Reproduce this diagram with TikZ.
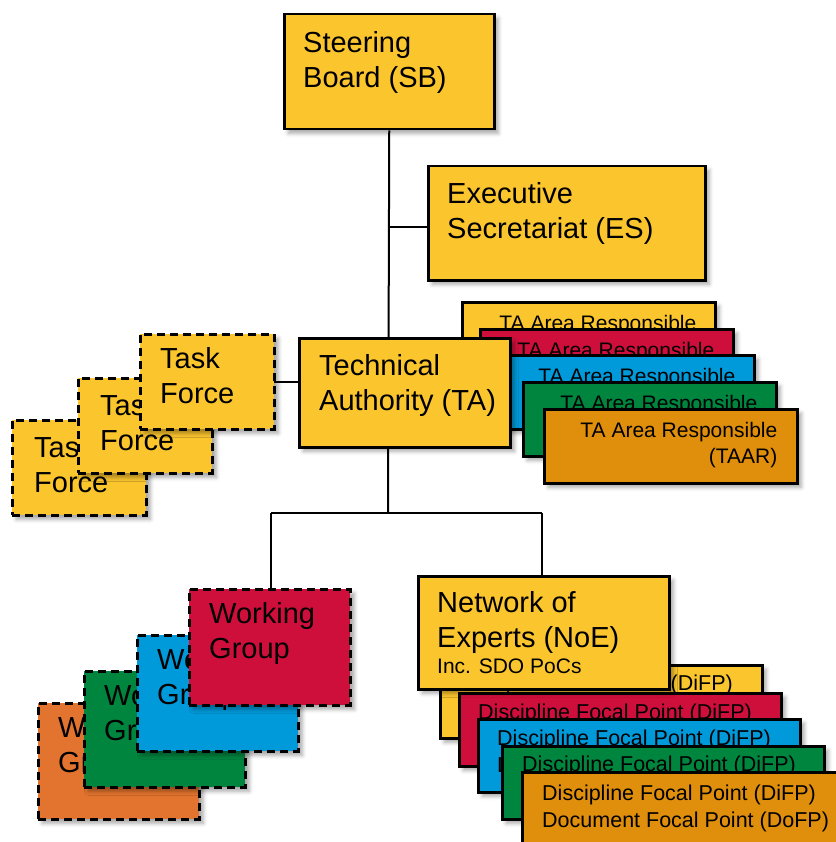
\documentclass[tikz,border=0pt]{standalone}
\usepackage{fontspec}
\setmainfont{Liberation Sans}
\usetikzlibrary{calc,shadows.blur}
\definecolor{cyel}{HTML}{FBC52E}
\definecolor{cred}{HTML}{CF0F3B}
\definecolor{cblue}{HTML}{0099DA}
\definecolor{cgreen}{HTML}{00853F}
\definecolor{camber}{HTML}{E08F0C}
\definecolor{corange}{HTML}{E3742F}
\newcommand{\bigf}{\fontsize{29}{35}\selectfont}
\newcommand{\taarf}{\fontsize{21}{26.5}\selectfont}
\newcommand{\difpf}{\fontsize{21.5}{27}\selectfont}
\tikzset{
  orgbox/.style={draw=black, line width=2.5pt, rectangle, inner sep=0pt, anchor=north west,
    blur shadow={shadow xshift=4pt, shadow yshift=-4pt, shadow blur radius=4pt, shadow opacity=35}},
  dbox/.style={orgbox, dash pattern=on 8pt off 5pt},
  tfbox/.style={dbox, fill=cyel, minimum width=134pt, minimum height=95pt},
  wgbox/.style={dbox, minimum width=161pt, minimum height=116pt},
  taarbox/.style={orgbox, minimum width=253pt, minimum height=74pt},
  difpbox/.style={orgbox, minimum width=322pt, minimum height=73pt},
  bigtxt/.style={inner sep=0pt, anchor=north west, align=left, font=\bigf},
  smtxtr/.style={inner sep=0pt, anchor=north east, align=right, font=\taarf},
  smtxtl/.style={inner sep=0pt, anchor=north west, align=left, font=\difpf},
  conn/.style={draw=black, line width=2pt},
}
\begin{document}
\begin{tikzpicture}[x=1pt,y=-1pt]
\useasboundingbox (0,0) rectangle (835,842);

% ---- connectors ----
\node[orgbox, fill=cyel, minimum width=210pt, minimum height=115pt] (sb) at (283,13) {};
\coordinate (j) at (388,513);
\coordinate (jl) at (271,513);
\coordinate (jr) at (542,513);
\coordinate (escon) at (388,227);
\coordinate (tfcon) at (388,382);
\draw[conn] (sb.south) -- (j);
\draw[conn] (jl) -- (jr);
\draw[conn] (escon) -- (427,227);
\draw[conn] (tfcon) -- (273,382);
\draw[conn] (jl) -- (271,588);
\draw[conn] (jr) -- (542,575);

% ---- Steering Board ----
\node[bigtxt] (sbt) at (303,{52-24.5}) {\strut Steering\\Board (SB)};

% ---- Executive Secretariat ----
\node[orgbox, fill=cyel, minimum width=277pt, minimum height=114pt] (es) at (427,165) {};
\node[bigtxt] (est) at (447,{203-24.5}) {\strut Executive\\Secretariat (ES)};

% ---- TA Area Responsible stack ----
\node[taarbox, fill=cyel] (ta1) at (461,301) {};
\node[smtxtr] (ta1t) at ($(ta1.north east)+(-20,10.5)$) {\strut TA Area Responsible};
\node[taarbox, fill=cred] (ta2) at (479,328) {};
\node[smtxtr] (ta2t) at ($(ta2.north east)+(-20,10.5)$) {\strut TA Area Responsible};
\node[taarbox, fill=cblue] (ta3) at (500,354) {};
\node[smtxtr] (ta3t) at ($(ta3.north east)+(-20,10.5)$) {\strut TA Area Responsible};
\node[taarbox, fill=cgreen] (ta4) at (522,381) {};
\node[smtxtr] (ta4t) at ($(ta4.north east)+(-20,10.5)$) {\strut TA Area Responsible};
\node[taarbox, fill=camber] (ta5) at (543,408) {};
\node[smtxtr] (ta5t) at ($(ta5.north east)+(-21,10.5)$) {\strut TA Area Responsible\\(TAAR)};

% ---- Technical Authority ----
\node[orgbox, fill=cyel, minimum width=211pt, minimum height=109pt] (ta) at (298,337) {};
\node[bigtxt] (tat) at (319,{375-24.5}) {\strut Technical\\Authority (TA)};

% ---- Task Forces ----
\node[tfbox] (tf3) at (11,419) {};
\node[bigtxt] (tf3t) at ($(tf3.north west)+(23,{38-24.5})$) {\strut Task\\Force};
\node[tfbox] (tf2) at (77,377) {};
\node[bigtxt] (tf2t) at ($(tf2.north west)+(23,{38-24.5})$) {\strut Task\\Force};
\node[tfbox] (tf1) at (139,333) {};
\node[bigtxt] (tf1t) at ($(tf1.north west)+(21,{35-24.5})$) {\strut Task\\Force};

% ---- Working Groups ----
\node[wgbox, fill=corange] (wg4) at (37,702) {};
\node[bigtxt] (wg4t) at ($(wg4.north west)+(21,{35-24.5})$) {\strut Working\\Group};
\node[wgbox, fill=cgreen] (wg3) at (83,670) {};
\node[bigtxt] (wg3t) at ($(wg3.north west)+(21,{35-24.5})$) {\strut Working\\Group};
\node[wgbox, fill=cblue] (wg2) at (136,634) {};
\node[bigtxt] (wg2t) at ($(wg2.north west)+(21,{35-24.5})$) {\strut Working\\Group};
\node[wgbox, fill=cred] (wg1) at (188,588) {};
\node[bigtxt] (wg1t) at ($(wg1.north west)+(21,{35-24.5})$) {\strut Working\\Group};

% ---- Discipline Focal Point stack ----
\node[difpbox, fill=cyel] (df1) at (439,664) {};
\node[smtxtl] (df1t) at ($(df1.north west)+(20,{26-18.9})$) {\strut Discipline Focal Point (DiFP)};
\node[difpbox, fill=cred] (df2) at (458,692) {};
\node[smtxtl] (df2t) at ($(df2.north west)+(20,{27-18.9})$) {\strut Discipline Focal Point (DiFP)};
\node[difpbox, fill=cblue] (df3) at (477,718) {};
\node[smtxtl] (df3t) at ($(df3.north west)+(20,{27-18.9})$) {\strut Discipline Focal Point (DiFP)\\Document Focal Point (DoFP)};
\node[difpbox, fill=cgreen] (df4) at (501,745) {};
\node[smtxtl] (df4t) at ($(df4.north west)+(21,{26-18.9})$) {\strut Discipline Focal Point (DiFP)};
\node[difpbox, fill=camber] (df5) at (521,771) {};
\node[smtxtl] (df5t) at ($(df5.north west)+(21,{29-18.9})$) {\strut Discipline Focal Point (DiFP)\\Document Focal Point (DoFP)};

% ---- Network of Experts ----
\node[orgbox, fill=cyel, minimum width=251pt, minimum height=113pt] (noe) at (417,575) {};
\node[bigtxt] (noet) at (437,{612-24.5}) {\strut Network of\\Experts (NoE)};
\node[inner sep=0pt, anchor=base west, font=\fontsize{21}{26}\selectfont] (noes) at (437,673) {Inc. SDO PoCs};
\end{tikzpicture}
\end{document}
